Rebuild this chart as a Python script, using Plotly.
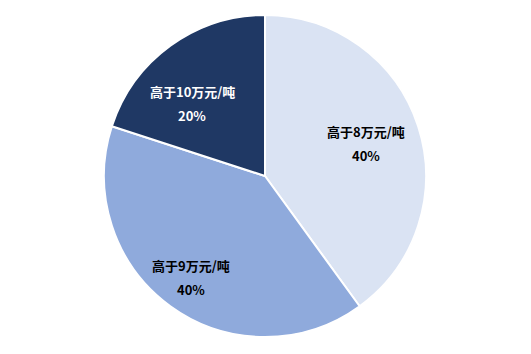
import math
import plotly.graph_objects as go

labels = ["高于8万元/吨", "高于9万元/吨", "高于10万元/吨"]
values = [40, 40, 20]
colors = ["#dae3f3", "#8faadc", "#1f3864"]
text_colors = ["#000000", "#000000", "#ffffff"]

W, H = 531, 354
cx, cy, R = 265, 176, 161

fig = go.Figure(go.Pie(
    labels=labels, values=values, sort=False, direction="clockwise", rotation=0,
    marker=dict(colors=colors, line=dict(color="#ffffff", width=2)),
    textinfo="none", hoverinfo="label+percent", showlegend=False,
    domain=dict(x=[(cx - R) / W, (cx + R) / W], y=[1 - (cy + R) / H, 1 - (cy - R) / H]),
))

total = sum(values)
start = 0.0
factors = [0.66, 0.78, 0.64]
angle_offsets = [0, 0, -9]
annotations = []
for lab, v, tc, f, da in zip(labels, values, text_colors, factors, angle_offsets):
    mid = (start + v / 2) / total * 2 * math.pi + math.radians(da)
    start += v
    px = cx + f * R * math.sin(mid)
    py = cy - f * R * math.cos(mid)
    for txt, dy in ((lab, -12), (f"{v / total:.0%}", 12)):
        annotations.append(dict(
            x=px / W, y=1 - (py + dy) / H, xref="paper", yref="paper",
            text=f"<b>{txt}</b>", showarrow=False,
            font=dict(family="Noto Sans CJK SC", size=13, color=tc),
            xanchor="center", yanchor="middle",
        ))

fig.update_layout(
    width=W, height=H, margin=dict(l=0, r=0, t=0, b=0),
    paper_bgcolor="#ffffff", plot_bgcolor="#ffffff",
    annotations=annotations,
)
fig.write_html("out.html")
